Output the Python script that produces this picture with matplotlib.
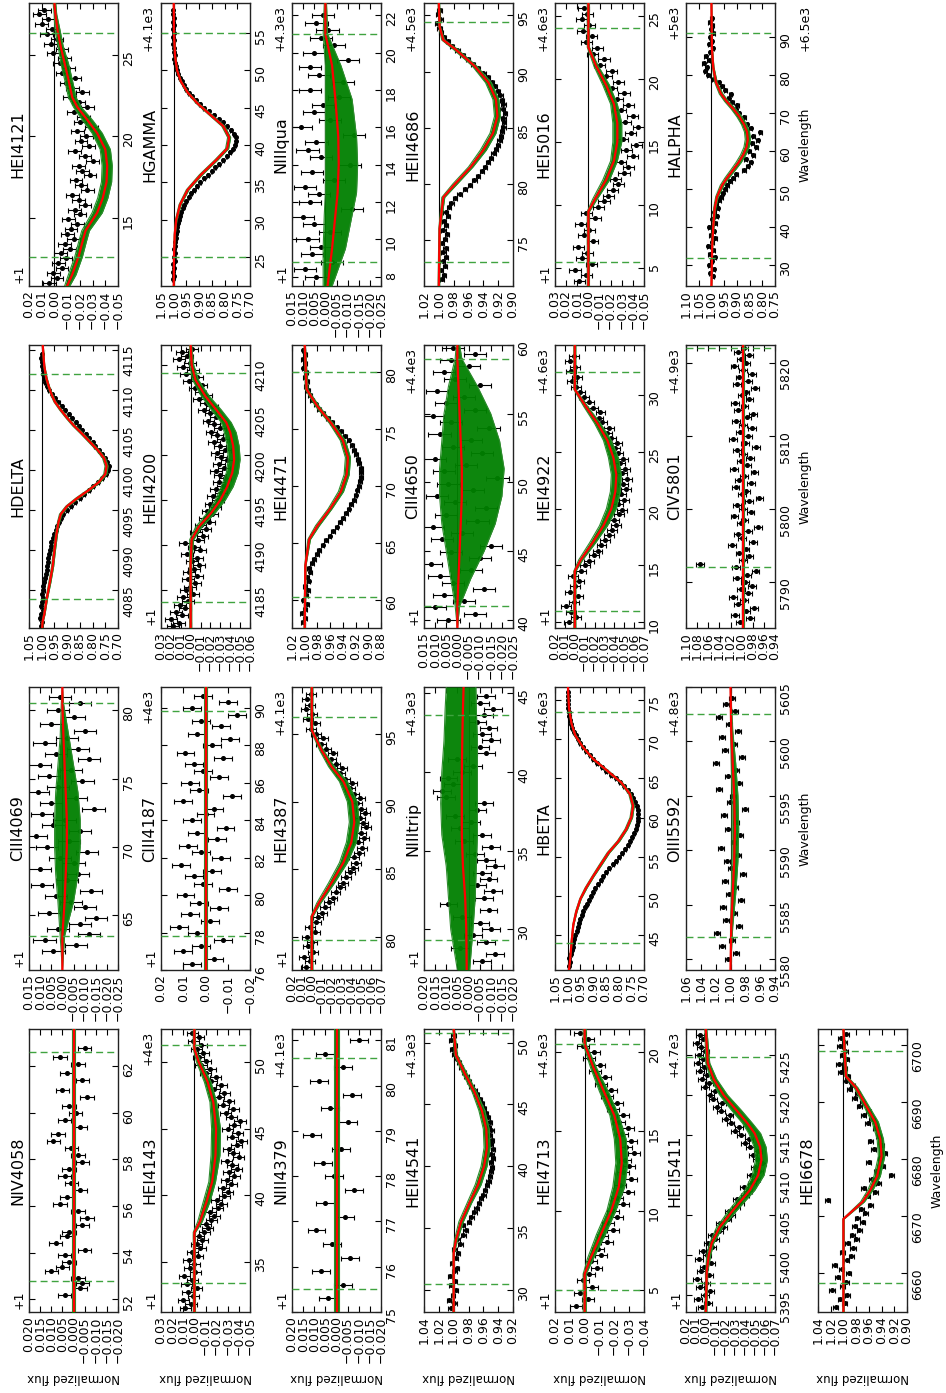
import numpy as np
import matplotlib
matplotlib.use("Agg")
import matplotlib.pyplot as plt
from matplotlib.ticker import MultipleLocator, FuncFormatter

# ---------------------------------------------------------------- data
# flux for "+1" panels is stored as (flux - 1)

NIV4058_wl = [4052.2, 4052.5, 4052.7, 4052.9, 4053.2, 4053.4, 4053.6, 4053.9, 4054.1, 4054.4,
              4054.7, 4054.9, 4055.2, 4055.5, 4055.8, 4056.1, 4056.4, 4056.7, 4057.0, 4057.3,
              4057.6, 4057.9, 4058.2, 4058.5, 4058.8, 4059.1, 4059.4, 4059.7, 4060.0, 4060.3,
              4060.7, 4061.0, 4061.4, 4061.7, 4062.1, 4062.4, 4062.8]
NIV4058_fx = [0.004, -0.003, -0.004, -0.002, 0.010, 0.005, 0.002, 0.004, -0.005, 0.008,
              0.003, 0.002, -0.004, -0.006, -0.002, 0.006, 0.003, -0.003, 0.001, 0.004,
              0.002, -0.004, -0.002, 0.001, 0.009, 0.007, -0.003, 0.004, -0.001, 0.002,
              -0.006, 0.005, -0.004, 0.003, -0.002, 0.006, -0.005]
NIV4058_err = 0.003
NIV4058_mwl = [4051.4, 4063.6]
NIV4058_red = [0.0, 0.0]
NIV4058_band = [0.0005, 0.0005]

CIII4069_wl = [4062.4, 4062.8, 4063.2, 4063.6, 4064.0, 4064.4, 4064.8, 4065.2, 4065.6, 4066.0,
               4066.4, 4066.8, 4067.2, 4067.6, 4068.0, 4068.4, 4068.8, 4069.2, 4069.6, 4070.0,
               4070.4, 4070.8, 4071.2, 4071.6, 4072.0, 4072.4, 4072.8, 4073.2, 4073.6, 4074.0,
               4074.4, 4074.8, 4075.2, 4075.6, 4076.0, 4076.4, 4076.8, 4077.2, 4077.6, 4078.0,
               4078.5, 4079.0, 4079.5, 4080.0, 4080.5, 4081.0]
CIII4069_fx = [0.004, -0.006, 0.008, -0.012, 0.002, -0.008, -0.015, 0.006, -0.010, -0.004,
               0.003, -0.013, 0.009, -0.002, -0.007, 0.010, -0.005, 0.001, -0.011, 0.007,
               -0.003, 0.012, -0.008, 0.004, -0.001, 0.009, -0.014, 0.005, -0.006, 0.011,
               0.002, -0.009, 0.006, -0.004, 0.010, -0.012, 0.003, -0.007, 0.008, -0.002,
               -0.010, 0.005, -0.005, 0.002, -0.008, 0.001]
CIII4069_err = 0.005
CIII4069_mwl = [4061.0, 4063.5, 4066.0, 4068.0, 4070.0, 4072.0, 4074.0, 4076.0, 4078.0, 4080.5, 4081.7]
CIII4069_red = [0.0, 0.0, -0.001, -0.0015, -0.002, -0.002, -0.0015, -0.001, -0.0005, 0.0, 0.0]
CIII4069_lo = [0.0, -0.001, -0.005, -0.007, -0.008, -0.008, -0.007, -0.005, -0.003, -0.0005, 0.0]
CIII4069_hi = [0.0, 0.001, 0.002, 0.003, 0.0035, 0.0035, 0.003, 0.002, 0.001, 0.0005, 0.0]

HDELTA_wl = [4080.5, 4081.0, 4081.5, 4082.0, 4082.5, 4083.0, 4083.5, 4084.0, 4084.5, 4085.0,
             4085.5, 4086.0, 4086.5, 4087.0, 4087.5, 4088.0, 4088.5, 4089.0, 4089.5, 4090.0,
             4090.5, 4091.0, 4091.5, 4092.0, 4092.5, 4093.0, 4093.5, 4094.0, 4094.5, 4095.0,
             4095.5, 4096.0, 4096.5, 4097.0, 4097.5, 4098.0, 4098.5, 4099.0, 4099.5, 4100.0,
             4100.5, 4101.0, 4101.5, 4102.0, 4102.5, 4103.0, 4103.5, 4104.0, 4104.5, 4105.0,
             4105.5, 4106.0, 4106.5, 4107.0, 4107.5, 4108.0, 4108.5, 4109.0, 4109.5, 4110.0,
             4110.5, 4111.0, 4111.5, 4112.0, 4112.5, 4113.0, 4113.5, 4114.0, 4114.5]
HDELTA_fx = [1.004, 0.998, 1.006, 1.001, 0.996, 1.003, 0.999, 0.995, 1.000, 0.993,
             0.996, 0.990, 0.987, 0.984, 0.980, 0.981, 0.976, 0.974, 0.970, 0.967,
             0.964, 0.962, 0.956, 0.952, 0.945, 0.940, 0.932, 0.924, 0.916, 0.902,
             0.885, 0.868, 0.850, 0.833, 0.815, 0.797, 0.780, 0.762, 0.748, 0.738,
             0.736, 0.742, 0.752, 0.764, 0.776, 0.789, 0.800, 0.814, 0.827, 0.840,
             0.853, 0.866, 0.880, 0.894, 0.908, 0.920, 0.934, 0.948, 0.960, 0.970,
             0.979, 0.986, 0.991, 0.996, 0.994, 1.000, 0.997, 1.002, 0.999]
HDELTA_err = 0.004
HDELTA_mwl = [4080.3, 4081.0, 4082.0, 4084.0, 4086.0, 4088.0, 4090.0, 4092.0, 4093.5, 4094.5,
              4095.5, 4096.5, 4097.5, 4098.5, 4099.5, 4100.5, 4101.5, 4102.5, 4103.5, 4104.5,
              4105.5, 4106.5, 4107.5, 4108.5, 4109.5, 4110.5, 4111.5, 4113.0, 4115.6]
HDELTA_red = [0.998, 0.997, 0.990, 0.980, 0.968, 0.957, 0.950, 0.942, 0.934, 0.925,
              0.900, 0.860, 0.815, 0.775, 0.750, 0.745, 0.755, 0.780, 0.810, 0.840,
              0.872, 0.900, 0.925, 0.948, 0.962, 0.973, 0.982, 0.990, 0.996]
HDELTA_band = [0.002, 0.002, 0.003, 0.003, 0.004, 0.004, 0.004, 0.004, 0.004, 0.005,
               0.005, 0.006, 0.006, 0.006, 0.006, 0.006, 0.006, 0.006, 0.006, 0.006,
               0.006, 0.005, 0.005, 0.004, 0.004, 0.003, 0.003, 0.002, 0.002]

HEI4121_wl = [4111.0, 4111.3, 4111.6, 4111.9, 4112.2, 4112.5, 4112.8, 4113.1, 4113.4, 4113.7,
              4114.0, 4114.3, 4114.6, 4114.9, 4115.2, 4115.5, 4115.8, 4116.1, 4116.4, 4116.7,
              4117.0, 4117.3, 4117.6, 4117.9, 4118.2, 4118.5, 4118.8, 4119.1, 4119.4, 4119.7,
              4120.0, 4120.3, 4120.6, 4120.9, 4121.2, 4121.5, 4121.8, 4122.1, 4122.4, 4122.7,
              4123.0, 4123.3, 4123.6, 4123.9, 4124.2, 4124.5, 4124.8, 4125.1, 4125.4, 4125.7,
              4126.0, 4126.3, 4126.6, 4126.9, 4127.2, 4127.5, 4127.8]
HEI4121_fx = [0.004, -0.002, 0.001, -0.006, -0.003, -0.009, -0.005, -0.012, -0.008, -0.015,
              -0.010, -0.013, -0.018, -0.011, -0.020, -0.016, -0.024, -0.019, -0.014, -0.026,
              -0.021, -0.017, -0.028, -0.022, -0.019, -0.030, -0.024, -0.016, -0.027, -0.021,
              -0.025, -0.018, -0.029, -0.020, -0.023, -0.015, -0.026, -0.019, -0.012, -0.022,
              -0.014, -0.009, -0.016, -0.006, -0.011, -0.004, -0.008, 0.001, -0.006, 0.003,
              -0.002, 0.006, 0.002, 0.010, 0.005, 0.012, 0.008]
HEI4121_err = 0.005
HEI4121_mwl = [4110.8, 4111.5, 4112.6, 4113.5, 4114.2, 4115.3, 4116.2, 4117.2, 4118.2, 4119.2,
               4120.2, 4121.0, 4121.8, 4122.4, 4123.5, 4124.5, 4125.5, 4126.5, 4127.5, 4128.2]
HEI4121_red = [-0.010, -0.014, -0.019, -0.022, -0.0245, -0.0336, -0.038, -0.041, -0.0415, -0.040,
               -0.0336, -0.026, -0.018, -0.014, -0.011, -0.008, -0.005, -0.0025, -0.0008, 0.0]
HEI4121_band = [0.002, 0.003, 0.003, 0.003, 0.003, 0.004, 0.004, 0.004, 0.004, 0.004,
                0.004, 0.004, 0.003, 0.003, 0.003, 0.003, 0.002, 0.002, 0.001, 0.001]

HEI4143_wl = [4131.5, 4131.8, 4132.1, 4132.4, 4132.7, 4133.0, 4133.3, 4133.6, 4133.9, 4134.2,
              4134.5, 4134.8, 4135.1, 4135.4, 4135.7, 4136.0, 4136.3, 4136.6, 4136.9, 4137.2,
              4137.5, 4137.8, 4138.1, 4138.4, 4138.7, 4139.0, 4139.3, 4139.6, 4139.9, 4140.2,
              4140.5, 4140.8, 4141.1, 4141.4, 4141.7, 4142.0, 4142.3, 4142.6, 4142.9, 4143.2,
              4143.5, 4143.8, 4144.1, 4144.4, 4144.7, 4145.0, 4145.3, 4145.6, 4145.9, 4146.2,
              4146.5, 4146.8, 4147.1, 4147.4, 4147.7, 4148.0, 4148.3, 4148.6, 4148.9, 4149.2,
              4149.5, 4149.8, 4150.1, 4150.4, 4150.7, 4151.0, 4151.3, 4151.6, 4151.9, 4152.2]
HEI4143_fx = [0.008, 0.003, 0.010, 0.001, 0.006, -0.002, 0.007, 0.002, 0.009, -0.001,
              0.004, 0.000, 0.005, -0.003, 0.002, -0.005, -0.002, -0.007, -0.004, -0.009,
              -0.012, -0.010, -0.015, -0.018, -0.014, -0.021, -0.024, -0.020, -0.027, -0.030,
              -0.026, -0.033, -0.029, -0.036, -0.031, -0.038, -0.034, -0.029, -0.040, -0.035,
              -0.031, -0.038, -0.042, -0.034, -0.039, -0.030, -0.036, -0.041, -0.033, -0.028,
              -0.035, -0.026, -0.031, -0.022, -0.027, -0.018, -0.024, -0.015, -0.019, -0.010,
              -0.014, -0.006, -0.010, -0.004, -0.008, -0.002, -0.006, 0.001, -0.004, 0.002]
HEI4143_err = 0.005
HEI4143_mwl = [4131.2, 4137.2, 4138.0, 4139.5, 4141.0, 4143.0, 4145.0, 4147.0, 4148.5, 4150.0, 4151.0, 4152.5]
HEI4143_red = [0.0, 0.0, -0.005, -0.011, -0.016, -0.019, -0.0195, -0.017, -0.012, -0.004, 0.0, 0.0]
HEI4143_band = [0.001, 0.001, 0.002, 0.003, 0.003, 0.004, 0.004, 0.003, 0.003, 0.002, 0.001, 0.001]

CIII4187_wl = [4176.3, 4176.6, 4177.0, 4177.3, 4177.6, 4178.0, 4178.3, 4178.6, 4179.0, 4179.3,
               4179.6, 4180.0, 4180.3, 4180.6, 4181.0, 4181.3, 4181.6, 4182.0, 4182.3, 4182.6,
               4183.0, 4183.3, 4183.6, 4184.0, 4184.3, 4184.6, 4185.0, 4185.3, 4185.6, 4186.0,
               4186.3, 4186.6, 4187.0, 4187.3, 4187.6, 4188.0, 4188.3, 4188.6, 4189.0, 4189.3,
               4189.6, 4190.0, 4190.3, 4190.6]
CIII4187_fx = [0.006, -0.004, 0.010, 0.002, -0.008, 0.004, 0.012, -0.002, 0.007, -0.006,
               0.003, 0.009, -0.010, 0.001, 0.005, -0.003, 0.011, -0.007, 0.002, 0.008,
               -0.005, 0.004, -0.009, 0.006, 0.000, -0.004, 0.010, -0.012, 0.003, 0.007,
               -0.006, 0.001, 0.005, -0.008, 0.009, -0.003, -0.011, 0.004, -0.007, 0.002,
               -0.014, 0.006, -0.010, 0.001]
CIII4187_err = 0.004
CIII4187_mwl = [4176.0, 4191.1]
CIII4187_red = [0.0, 0.0]
CIII4187_band = [0.0008, 0.0008]

HEII4200_wl = [4181.0, 4181.4, 4181.8, 4182.2, 4182.6, 4183.0, 4183.4, 4183.8, 4184.2, 4184.6,
               4185.0, 4185.4, 4185.8, 4186.2, 4186.6, 4187.0, 4187.4, 4187.8, 4188.2, 4188.6,
               4189.0, 4189.4, 4189.8, 4190.2, 4190.6, 4191.0, 4191.4, 4191.8, 4192.2, 4192.6,
               4193.0, 4193.4, 4193.8, 4194.2, 4194.6, 4195.0, 4195.4, 4195.8, 4196.2, 4196.6,
               4197.0, 4197.4, 4197.8, 4198.2, 4198.6, 4199.0, 4199.4, 4199.8, 4200.2, 4200.6,
               4201.0, 4201.4, 4201.8, 4202.2, 4202.6, 4203.0, 4203.4, 4203.8, 4204.2, 4204.6,
               4205.0, 4205.4, 4205.8, 4206.2, 4206.6, 4207.0, 4207.4, 4207.8, 4208.2, 4208.6,
               4209.0, 4209.4, 4209.8, 4210.2, 4210.6, 4211.0, 4211.4, 4211.8]
HEII4200_fx = [0.018, 0.012, 0.020, 0.009, 0.015, 0.006, 0.011, 0.003, 0.008, -0.002,
               0.005, 0.001, -0.004, 0.003, -0.006, 0.002, -0.003, -0.008, -0.001, -0.006,
               0.004, -0.009, -0.003, 0.006, -0.007, -0.012, -0.005, -0.015, -0.010, -0.019,
               -0.014, -0.022, -0.017, -0.025, -0.020, -0.028, -0.023, -0.031, -0.026, -0.033,
               -0.029, -0.035, -0.030, -0.026, -0.034, -0.029, -0.037, -0.031, -0.027, -0.035,
               -0.030, -0.024, -0.033, -0.027, -0.021, -0.030, -0.024, -0.018, -0.026, -0.020,
               -0.013, -0.022, -0.015, -0.008, -0.016, -0.010, -0.004, -0.011, 0.002, -0.006,
               0.005, -0.002, 0.008, 0.001, 0.012, 0.004, 0.009, -0.001]
HEII4200_err = 0.006
HEII4200_mwl = [4180.8, 4188.0, 4190.6, 4192.0, 4193.6, 4195.0, 4196.5, 4198.0, 4199.5, 4201.0,
                4202.5, 4203.6, 4205.0, 4206.5, 4208.3, 4210.0, 4212.2]
HEII4200_red = [0.0, 0.0, -0.001, -0.008, -0.021, -0.030, -0.037, -0.042, -0.044, -0.043,
                -0.040, -0.036, -0.026, -0.015, -0.005, -0.001, 0.0]
HEII4200_band = [0.001, 0.001, 0.002, 0.003, 0.004, 0.005, 0.006, 0.006, 0.006, 0.006,
                 0.006, 0.005, 0.005, 0.004, 0.003, 0.002, 0.001]

HGAMMA_wl = [4322.0, 4322.5, 4323.0, 4323.5, 4324.0, 4324.5, 4325.0, 4325.5, 4326.0, 4326.5,
             4327.0, 4327.5, 4328.0, 4328.5, 4329.0, 4329.5, 4330.0, 4330.5, 4331.0, 4331.5,
             4332.0, 4332.5, 4333.0, 4333.5, 4334.0, 4334.5, 4335.0, 4335.5, 4336.0, 4336.5,
             4337.0, 4337.5, 4338.0, 4338.5, 4339.0, 4339.5, 4340.0, 4340.5, 4341.0, 4341.5,
             4342.0, 4342.5, 4343.0, 4343.5, 4344.0, 4344.5, 4345.0, 4345.5, 4346.0, 4346.5,
             4347.0, 4347.5, 4348.0, 4348.5, 4349.0, 4349.5, 4350.0, 4350.5, 4351.0, 4351.5,
             4352.0, 4352.5, 4353.0, 4353.5, 4354.0, 4354.5, 4355.0, 4355.5, 4356.0, 4356.5,
             4357.0, 4357.5, 4358.0]
HGAMMA_fx = [1.003, 0.998, 1.002, 0.997, 1.001, 0.996, 1.000, 0.996, 0.998, 0.994,
             0.995, 0.991, 0.992, 0.988, 0.987, 0.983, 0.981, 0.976, 0.971, 0.965,
             0.958, 0.950, 0.941, 0.931, 0.920, 0.908, 0.895, 0.881, 0.866, 0.851,
             0.836, 0.821, 0.806, 0.792, 0.779, 0.768, 0.759, 0.755, 0.757, 0.764,
             0.775, 0.789, 0.805, 0.823, 0.842, 0.861, 0.880, 0.897, 0.913, 0.927,
             0.940, 0.951, 0.961, 0.969, 0.976, 0.982, 0.987, 0.991, 0.994, 0.997,
             0.996, 0.999, 0.998, 1.001, 0.999, 1.002, 1.000, 1.003, 0.999, 1.002,
             1.000, 1.004, 1.001]
HGAMMA_err = 0.003
HGAMMA_mwl = [4321.0, 4325.0, 4328.0, 4330.0, 4332.0, 4334.0, 4336.0, 4338.0, 4339.5, 4341.0,
              4342.5, 4344.0, 4345.5, 4347.0, 4348.5, 4350.0, 4352.0, 4355.0, 4359.0]
HGAMMA_red = [1.0, 0.999, 0.996, 0.990, 0.975, 0.945, 0.893, 0.832, 0.790, 0.782,
              0.805, 0.855, 0.905, 0.945, 0.972, 0.987, 0.995, 0.999, 1.0]
HGAMMA_band = [0.001, 0.001, 0.002, 0.003, 0.004, 0.005, 0.006, 0.006, 0.006, 0.006,
               0.006, 0.006, 0.005, 0.004, 0.003, 0.002, 0.002, 0.001, 0.001]

NIII4379_wl = [4375.3, 4375.6, 4375.9, 4376.2, 4376.5, 4376.8, 4377.1, 4377.4, 4377.7, 4378.0,
               4378.3, 4378.6, 4378.9, 4379.2, 4379.5, 4379.8, 4380.1, 4380.4, 4380.7, 4381.0]
NIII4379_fx = [0.004, -0.003, 0.007, -0.006, 0.002, 0.009, -0.004, 0.005, -0.008, 0.001,
               0.006, -0.002, 0.011, -0.005, 0.003, -0.007, 0.008, -0.003, 0.005, -0.010]
NIII4379_err = 0.004
NIII4379_mwl = [4375.0, 4381.25]
NIII4379_red = [0.0, 0.0]
NIII4379_band = [0.0009, 0.0009]

HEI4387_wl = [4377.8, 4378.2, 4378.5, 4378.9, 4379.3, 4379.6, 4380.0, 4380.4, 4380.7, 4381.1,
              4381.5, 4381.8, 4382.2, 4382.6, 4382.9, 4383.3, 4383.7, 4384.0, 4384.4, 4384.8,
              4385.1, 4385.5, 4385.9, 4386.2, 4386.6, 4387.0, 4387.3, 4387.7, 4388.1, 4388.4,
              4388.8, 4389.2, 4389.5, 4389.9, 4390.3, 4390.6, 4391.0, 4391.4, 4391.7, 4392.1,
              4392.5, 4392.8, 4393.2, 4393.6, 4393.9, 4394.3, 4394.7, 4395.0, 4395.4, 4395.8,
              4396.1, 4396.5, 4396.9, 4397.2, 4397.6, 4398.0]
HEI4387_fx = [0.006, 0.002, 0.008, -0.001, 0.004, 0.000, 0.005, -0.003, 0.002, -0.004,
              -0.006, -0.010, -0.013, -0.017, -0.021, -0.024, -0.029, -0.032, -0.035, -0.039,
              -0.042, -0.045, -0.043, -0.048, -0.051, -0.047, -0.053, -0.050, -0.055, -0.052,
              -0.049, -0.054, -0.050, -0.046, -0.049, -0.043, -0.039, -0.041, -0.034, -0.029,
              -0.031, -0.024, -0.019, -0.021, -0.014, -0.009, -0.011, -0.004, 0.001, -0.003,
              0.004, 0.000, 0.006, 0.002, 0.005, 0.001]
HEI4387_err = 0.005
HEI4387_mwl = [4377.55, 4381.5, 4382.5, 4384.0, 4385.5, 4387.0, 4388.5, 4390.0, 4391.5, 4392.6,
               4393.8, 4395.3, 4398.5]
HEI4387_red = [0.0, 0.0, -0.007, -0.020, -0.032, -0.040, -0.043, -0.041, -0.032, -0.020,
               -0.010, 0.0, 0.0]
HEI4387_band = [0.001, 0.001, 0.002, 0.003, 0.004, 0.005, 0.005, 0.005, 0.004, 0.003,
                0.002, 0.001, 0.001]

HEI4471_wl = [4458.0, 4458.4, 4458.8, 4459.2, 4459.6, 4460.0, 4460.4, 4460.8, 4461.2, 4461.6,
              4462.0, 4462.4, 4462.8, 4463.2, 4463.6, 4464.0, 4464.4, 4464.8, 4465.2, 4465.6,
              4466.0, 4466.4, 4466.8, 4467.2, 4467.6, 4468.0, 4468.4, 4468.8, 4469.2, 4469.6,
              4470.0, 4470.4, 4470.8, 4471.2, 4471.6, 4472.0, 4472.4, 4472.8, 4473.2, 4473.6,
              4474.0, 4474.4, 4474.8, 4475.2, 4475.6, 4476.0, 4476.4, 4476.8, 4477.2, 4477.6,
              4478.0, 4478.4, 4478.8, 4479.2, 4479.6, 4480.0, 4480.4, 4480.8, 4481.2, 4481.6,
              4482.0]
HEI4471_fx = [1.003, 0.999, 1.004, 1.000, 0.997, 1.002, 0.998, 0.995, 0.999, 0.994,
              0.996, 0.991, 0.993, 0.988, 0.985, 0.981, 0.977, 0.972, 0.966, 0.961,
              0.956, 0.950, 0.945, 0.940, 0.935, 0.931, 0.927, 0.923, 0.920, 0.917,
              0.915, 0.913, 0.912, 0.911, 0.912, 0.914, 0.916, 0.919, 0.922, 0.926,
              0.931, 0.937, 0.943, 0.950, 0.957, 0.964, 0.971, 0.977, 0.983, 0.988,
              0.992, 0.995, 0.998, 0.996, 1.000, 0.998, 1.002, 0.999, 1.003, 1.000,
              1.002]
HEI4471_err = 0.003
HEI4471_mwl = [4457.5, 4463.0, 4465.3, 4466.5, 4468.0, 4469.5, 4471.0, 4472.5, 4474.0, 4475.5,
               4477.0, 4478.5, 4482.4]
HEI4471_red = [1.0, 0.999, 0.993, 0.980, 0.960, 0.943, 0.934, 0.932, 0.940, 0.958,
               0.980, 0.997, 1.0]
HEI4471_band = [0.001, 0.001, 0.002, 0.003, 0.003, 0.004, 0.004, 0.004, 0.004, 0.003,
                0.003, 0.002, 0.001]

NIIIqua_wl = [4508.0, 4508.4, 4508.8, 4509.2, 4509.6, 4510.0, 4510.4, 4510.8, 4511.2, 4511.6,
              4512.0, 4512.4, 4512.8, 4513.2, 4513.6, 4514.0, 4514.4, 4514.8, 4515.2, 4515.6,
              4516.0, 4516.4, 4516.8, 4517.2, 4517.6, 4518.0, 4518.4, 4518.8, 4519.2, 4519.6,
              4520.0, 4520.4, 4520.8, 4521.2, 4521.6, 4522.0]
NIIIqua_fx = [0.004, 0.009, -0.003, 0.006, 0.002, 0.008, -0.002, 0.005, 0.010, -0.012,
              0.007, 0.003, 0.009, -0.004, 0.006, -0.011, 0.002, 0.008, 0.004, -0.013,
              0.011, -0.002, 0.005, 0.001, -0.006, 0.007, -0.008, 0.003, 0.007, -0.010,
              0.005, -0.004, 0.002, -0.001, 0.004, 0.001]
NIIIqua_err = 0.005
NIIIqua_mwl = [4507.5, 4509.5, 4511.3, 4512.5, 4514.0, 4515.5, 4517.5, 4519.3, 4521.0, 4522.65]
NIIIqua_red = [-0.001, -0.003, -0.0045, -0.0055, -0.006, -0.0058, -0.0045, -0.003, 0.0, 0.0]
NIIIqua_lo = [-0.003, -0.009, -0.012, -0.014, -0.0145, -0.014, -0.012, -0.007, -0.001, -0.0005]
NIIIqua_hi = [0.001, 0.001, 0.0005, 0.0, 0.0, 0.0, 0.0, 0.0, 0.001, 0.0005]

HEII4541_wl = [4528.5, 4528.9, 4529.2, 4529.6, 4530.0, 4530.4, 4530.7, 4531.1, 4531.5, 4531.8,
               4532.2, 4532.6, 4533.0, 4533.3, 4533.7, 4534.1, 4534.4, 4534.8, 4535.2, 4535.5,
               4535.9, 4536.3, 4536.6, 4537.0, 4537.4, 4537.7, 4538.1, 4538.5, 4538.8, 4539.2,
               4539.6, 4539.9, 4540.3, 4540.7, 4541.0, 4541.4, 4541.8, 4542.1, 4542.5, 4542.9,
               4543.2, 4543.6, 4544.0, 4544.3, 4544.7, 4545.1, 4545.4, 4545.8, 4546.2, 4546.5,
               4546.9, 4547.3, 4547.6, 4548.0, 4548.4, 4548.7, 4549.1, 4549.5, 4549.8, 4550.2,
               4550.6]
HEII4541_fx = [1.004, 0.999, 1.006, 1.001, 0.997, 1.003, 0.998, 1.005, 0.999, 0.996,
               1.002, 0.997, 0.994, 0.999, 0.991, 0.995, 0.987, 0.984, 0.988, 0.979,
               0.976, 0.972, 0.969, 0.966, 0.963, 0.960, 0.958, 0.955, 0.953, 0.951,
               0.950, 0.948, 0.950, 0.947, 0.949, 0.947, 0.950, 0.948, 0.951, 0.949,
               0.952, 0.951, 0.954, 0.957, 0.959, 0.962, 0.965, 0.969, 0.972, 0.976,
               0.979, 0.983, 0.986, 0.990, 0.993, 0.996, 0.999, 1.002, 0.998, 1.003,
               1.000]
HEII4541_err = 0.003
HEII4541_mwl = [4528.2, 4533.0, 4534.0, 4535.5, 4537.0, 4538.5, 4540.0, 4541.5, 4543.0, 4544.5,
                4546.0, 4547.5, 4549.0, 4551.1]
HEII4541_red = [1.0, 1.0, 0.997, 0.990, 0.979, 0.967, 0.959, 0.955, 0.956, 0.962,
                0.972, 0.985, 0.997, 1.0]
HEII4541_band = [0.001, 0.001, 0.002, 0.003, 0.003, 0.004, 0.004, 0.004, 0.004, 0.004,
                 0.003, 0.003, 0.002, 0.001]

NIIItrip_wl = [4628.0, 4628.4, 4628.8, 4629.2, 4629.6, 4630.0, 4630.4, 4630.8, 4631.2, 4631.6,
               4632.0, 4632.4, 4632.8, 4633.2, 4633.6, 4634.0, 4634.4, 4634.8, 4635.2, 4635.6,
               4636.0, 4636.4, 4636.8, 4637.2, 4637.6, 4638.0, 4638.4, 4638.8, 4639.2, 4639.6,
               4640.0, 4640.4, 4640.8, 4641.2, 4641.6, 4642.0, 4642.4, 4642.8, 4643.2, 4643.6,
               4644.0, 4644.4, 4644.8]
NIIItrip_fx = [-0.006, -0.012, 0.004, -0.008, -0.002, -0.010, -0.005, 0.003, -0.009, 0.009,
               -0.007, -0.011, -0.004, -0.009, -0.006, -0.012, -0.008, -0.003, -0.010, 0.002,
               -0.006, 0.004, -0.001, 0.006, -0.004, -0.007, 0.010, 0.012, 0.007, 0.009,
               0.003, -0.002, 0.005, -0.008, -0.005, -0.010, -0.006, -0.009, -0.004, -0.007,
               -0.011, -0.005, -0.008]
NIIItrip_err = 0.004
NIIItrip_mwl = [4627.4, 4630.0, 4632.0, 4634.0, 4636.0, 4638.0, 4640.0, 4642.0, 4644.0, 4645.4]
NIIItrip_red = [0.0008, 0.001, 0.0015, 0.0025, 0.003, 0.003, 0.003, 0.0028, 0.0025, 0.0022]
NIIItrip_lo = [-0.0005, -0.002, -0.003, -0.0035, -0.004, -0.004, -0.004, -0.004, -0.0035, -0.0033]
NIIItrip_hi = [0.005, 0.008, 0.009, 0.010, 0.012, 0.0125, 0.012, 0.011, 0.0105, 0.010]

CIII4650_wl = [4640.0, 4640.45, 4640.9, 4641.35, 4641.8, 4642.25, 4642.7, 4643.15, 4643.6, 4644.05,
               4644.5, 4644.95, 4645.4, 4645.85, 4646.3, 4646.75, 4647.2, 4647.65, 4648.1, 4648.55,
               4649.0, 4649.45, 4649.9, 4650.35, 4650.8, 4651.25, 4651.7, 4652.15, 4652.6, 4653.05,
               4653.5, 4653.95, 4654.4, 4654.85, 4655.3, 4655.75, 4656.2, 4656.65, 4657.1, 4657.55,
               4658.0, 4658.45, 4658.9, 4659.35, 4659.8]
CIII4650_fx = [0.004, -0.008, 0.010, -0.003, 0.006, -0.012, 0.002, 0.008, -0.006, 0.012,
               -0.010, 0.003, -0.015, 0.007, -0.002, 0.011, -0.009, 0.005, -0.013, 0.001,
               0.009, -0.007, 0.004, -0.018, 0.006, -0.004, 0.010, -0.011, 0.002, -0.006,
               0.008, -0.014, 0.003, 0.011, -0.008, 0.005, -0.003, 0.009, -0.010, 0.001,
               0.006, -0.005, 0.003, -0.008, 0.002]
CIII4650_err = 0.005
CIII4650_mwl = [4639.4, 4641.0, 4643.0, 4645.0, 4647.0, 4649.0, 4651.0, 4653.0, 4655.0, 4657.0, 4659.0, 4660.0]
CIII4650_red = [0.0, 0.0, -0.0005, -0.001, -0.0015, -0.002, -0.002, -0.0015, -0.001, -0.0005, 0.0, 0.0]
CIII4650_lo = [0.0, -0.001, -0.006, -0.012, -0.017, -0.020, -0.021, -0.019, -0.015, -0.009, -0.002, -0.001]
CIII4650_hi = [0.0, 0.001, 0.003, 0.005, 0.007, 0.008, 0.008, 0.007, 0.006, 0.004, 0.001, 0.0005]

HEII4686_wl = [4671.5, 4671.9, 4672.3, 4672.7, 4673.1, 4673.5, 4673.9, 4674.3, 4674.7, 4675.1,
               4675.5, 4675.9, 4676.3, 4676.7, 4677.1, 4677.5, 4677.9, 4678.3, 4678.7, 4679.1,
               4679.5, 4679.9, 4680.3, 4680.7, 4681.1, 4681.5, 4681.9, 4682.3, 4682.7, 4683.1,
               4683.5, 4683.9, 4684.3, 4684.7, 4685.1, 4685.5, 4685.9, 4686.3, 4686.7, 4687.1,
               4687.5, 4687.9, 4688.3, 4688.7, 4689.1, 4689.5, 4689.9, 4690.3, 4690.7, 4691.1,
               4691.5, 4691.9, 4692.3, 4692.7, 4693.1, 4693.5, 4693.9, 4694.3, 4694.7, 4695.1,
               4695.5]
HEII4686_fx = [0.996, 0.993, 0.997, 0.992, 0.995, 0.990, 0.994, 0.991, 0.996, 0.992,
               0.989, 0.994, 0.990, 0.993, 0.988, 0.991, 0.986, 0.983, 0.978, 0.972,
               0.965, 0.958, 0.952, 0.947, 0.942, 0.938, 0.934, 0.930, 0.926, 0.923,
               0.920, 0.918, 0.916, 0.915, 0.913, 0.912, 0.913, 0.911, 0.914, 0.913,
               0.915, 0.917, 0.920, 0.924, 0.928, 0.934, 0.940, 0.947, 0.954, 0.961,
               0.968, 0.975, 0.982, 0.988, 0.993, 0.997, 0.999, 1.002, 0.998, 1.001,
               0.999]
HEII4686_err = 0.003
HEII4686_mwl = [4670.9, 4676.0, 4678.8, 4680.0, 4681.5, 4683.0, 4684.5, 4686.0, 4687.5, 4689.0,
                4690.5, 4692.0, 4692.8, 4694.0, 4696.1]
HEII4686_red = [1.0, 0.999, 0.994, 0.978, 0.957, 0.940, 0.927, 0.921, 0.923, 0.933,
                0.952, 0.978, 0.994, 0.999, 1.0]
HEII4686_band = [0.001, 0.001, 0.002, 0.003, 0.003, 0.004, 0.004, 0.004, 0.004, 0.004,
                 0.003, 0.003, 0.002, 0.001, 0.001]

HEI4713_wl = [4704.0, 4704.4, 4704.8, 4705.2, 4705.6, 4706.0, 4706.4, 4706.8, 4707.2, 4707.6,
              4708.0, 4708.4, 4708.8, 4709.2, 4709.6, 4710.0, 4710.4, 4710.8, 4711.2, 4711.6,
              4712.0, 4712.4, 4712.8, 4713.2, 4713.6, 4714.0, 4714.4, 4714.8, 4715.2, 4715.6,
              4716.0, 4716.4, 4716.8, 4717.2, 4717.6, 4718.0, 4718.4, 4718.8, 4719.2, 4719.6,
              4720.0, 4720.4, 4720.8, 4721.2]
HEI4713_fx = [0.006, -0.002, 0.003, -0.005, 0.001, -0.003, -0.008, -0.004, -0.011, -0.009,
              -0.015, -0.012, -0.019, -0.016, -0.022, -0.019, -0.026, -0.022, -0.029, -0.024,
              -0.031, -0.026, -0.030, -0.027, -0.033, -0.028, -0.031, -0.025, -0.029, -0.023,
              -0.026, -0.019, -0.022, -0.015, -0.018, -0.011, -0.014, -0.007, -0.010, -0.003,
              -0.006, 0.001, -0.002, 0.003]
HEI4713_err = 0.004
HEI4713_mwl = [4703.6, 4706.0, 4707.0, 4708.5, 4710.0, 4711.5, 4713.0, 4714.5, 4716.0, 4717.5,
               4719.0, 4720.5, 4721.45]
HEI4713_red = [0.0, 0.0, -0.004, -0.011, -0.018, -0.023, -0.025, -0.024, -0.020, -0.013,
               -0.006, 0.0, 0.0]
HEI4713_band = [0.001, 0.001, 0.002, 0.003, 0.003, 0.004, 0.004, 0.004, 0.003, 0.003,
                0.002, 0.001, 0.001]

HBETA_wl = [4841.0, 4841.5, 4842.0, 4842.5, 4843.0, 4843.5, 4844.0, 4844.5, 4845.0, 4845.5,
            4846.0, 4846.5, 4847.0, 4847.5, 4848.0, 4848.5, 4849.0, 4849.5, 4850.0, 4850.5,
            4851.0, 4851.5, 4852.0, 4852.5, 4853.0, 4853.5, 4854.0, 4854.5, 4855.0, 4855.5,
            4856.0, 4856.5, 4857.0, 4857.5, 4858.0, 4858.5, 4859.0, 4859.5, 4860.0, 4860.5,
            4861.0, 4861.5, 4862.0, 4862.5, 4863.0, 4863.5, 4864.0, 4864.5, 4865.0, 4865.5,
            4866.0, 4866.5, 4867.0, 4867.5, 4868.0, 4868.5, 4869.0, 4869.5, 4870.0, 4870.5,
            4871.0, 4871.5, 4872.0, 4872.5, 4873.0, 4873.5, 4874.0, 4874.5, 4875.0, 4875.5,
            4876.0]
HBETA_fx = [0.995, 0.991, 0.994, 0.988, 0.985, 0.981, 0.978, 0.974, 0.970, 0.965,
            0.961, 0.956, 0.951, 0.945, 0.939, 0.932, 0.925, 0.918, 0.910, 0.901,
            0.892, 0.882, 0.871, 0.860, 0.848, 0.836, 0.823, 0.810, 0.798, 0.786,
            0.775, 0.764, 0.754, 0.746, 0.738, 0.732, 0.727, 0.724, 0.722, 0.722,
            0.724, 0.728, 0.734, 0.742, 0.752, 0.764, 0.779, 0.795, 0.812, 0.830,
            0.848, 0.866, 0.883, 0.899, 0.914, 0.928, 0.940, 0.951, 0.961, 0.969,
            0.976, 0.982, 0.986, 0.990, 0.993, 0.995, 0.997, 0.999, 0.998, 1.000,
            0.999]
HBETA_err = 0.004
HBETA_mwl = [4840.5, 4842.0, 4844.0, 4846.3, 4848.0, 4849.6, 4851.0, 4852.5, 4854.0, 4855.5,
             4857.0, 4858.5, 4860.0, 4861.5, 4863.0, 4864.5, 4866.0, 4867.5, 4869.0, 4870.5,
             4872.0, 4874.0, 4876.7]
HBETA_red = [0.995, 0.990, 0.985, 0.978, 0.966, 0.950, 0.928, 0.900, 0.870, 0.840,
             0.800, 0.770, 0.750, 0.743, 0.755, 0.790, 0.845, 0.900, 0.940, 0.970,
             0.985, 0.995, 0.999]
HBETA_band = [0.001, 0.001, 0.002, 0.002, 0.003, 0.003, 0.004, 0.004, 0.005, 0.005,
              0.005, 0.005, 0.005, 0.005, 0.005, 0.005, 0.005, 0.004, 0.004, 0.003,
              0.002, 0.001, 0.001]

HEI4922_wl = [4910.0, 4910.5, 4910.9, 4911.4, 4911.8, 4912.3, 4912.7, 4913.2, 4913.6, 4914.1,
              4914.5, 4915.0, 4915.4, 4915.9, 4916.3, 4916.8, 4917.2, 4917.7, 4918.1, 4918.6,
              4919.0, 4919.5, 4919.9, 4920.4, 4920.8, 4921.3, 4921.7, 4922.2, 4922.6, 4923.1,
              4923.5, 4924.0, 4924.4, 4924.9, 4925.3, 4925.8, 4926.2, 4926.7, 4927.1, 4927.6,
              4928.0, 4928.5, 4928.9, 4929.4, 4929.8, 4930.3, 4930.7, 4931.2, 4931.6, 4932.1,
              4932.5, 4933.0, 4933.4]
HEI4922_fx = [0.006, -0.001, 0.004, 0.009, 0.001, -0.003, 0.005, 0.000, -0.004, 0.002,
              -0.006, -0.010, -0.014, -0.019, -0.023, -0.027, -0.031, -0.035, -0.038, -0.042,
              -0.040, -0.045, -0.048, -0.044, -0.050, -0.047, -0.052, -0.049, -0.053, -0.048,
              -0.051, -0.046, -0.049, -0.044, -0.041, -0.043, -0.037, -0.033, -0.035, -0.028,
              -0.024, -0.026, -0.018, -0.014, -0.009, -0.005, -0.001, 0.003, -0.002, 0.004,
              0.000, 0.005, 0.001]
HEI4922_err = 0.005
HEI4922_mwl = [4909.5, 4914.5, 4915.5, 4917.0, 4918.5, 4920.0, 4921.5, 4923.0, 4924.5, 4926.0,
               4927.5, 4929.0, 4930.5, 4934.4]
HEI4922_red = [0.0, 0.0, -0.006, -0.018, -0.029, -0.037, -0.041, -0.042, -0.039, -0.033,
               -0.023, -0.011, 0.0, 0.0]
HEI4922_band = [0.001, 0.001, 0.002, 0.003, 0.004, 0.005, 0.005, 0.005, 0.005, 0.004,
                0.003, 0.002, 0.001, 0.001]

HEI5016_wl = [5004.0, 5004.45, 5004.9, 5005.35, 5005.8, 5006.25, 5006.7, 5007.15, 5007.6, 5008.05,
              5008.5, 5008.95, 5009.4, 5009.85, 5010.3, 5010.75, 5011.2, 5011.65, 5012.1, 5012.55,
              5013.0, 5013.45, 5013.9, 5014.35, 5014.8, 5015.25, 5015.7, 5016.15, 5016.6, 5017.05,
              5017.5, 5017.95, 5018.4, 5018.85, 5019.3, 5019.75, 5020.2, 5020.65, 5021.1, 5021.55,
              5022.0, 5022.45, 5022.9, 5023.35, 5023.8, 5024.25, 5024.7, 5025.15, 5025.6]
HEI5016_fx = [0.008, 0.002, 0.012, -0.003, 0.006, 0.001, 0.009, -0.004, 0.004, -0.001,
              0.007, -0.006, 0.002, -0.009, -0.014, -0.018, -0.022, -0.027, -0.024, -0.032,
              -0.036, -0.029, -0.040, -0.034, -0.043, -0.031, -0.038, -0.045, -0.033, -0.040,
              -0.029, -0.036, -0.026, -0.032, -0.021, -0.027, -0.016, -0.021, -0.010, -0.014,
              -0.004, -0.008, 0.002, -0.003, 0.005, -0.001, 0.006, 0.001, 0.004]
HEI5016_err = 0.005
HEI5016_mwl = [5003.6, 5009.5, 5010.5, 5012.0, 5013.5, 5015.0, 5016.5, 5018.0, 5019.5, 5021.0, 5022.5, 5026.0]
HEI5016_red = [0.0, 0.0, -0.006, -0.016, -0.023, -0.026, -0.026, -0.023, -0.016, -0.007, 0.0, 0.0]
HEI5016_band = [0.001, 0.001, 0.002, 0.003, 0.003, 0.004, 0.004, 0.003, 0.003, 0.002, 0.001, 0.001]

HEII5411_wl = [5393.5, 5394.0, 5394.5, 5395.0, 5395.5, 5396.0, 5396.5, 5397.0, 5397.5, 5398.0,
               5398.5, 5399.0, 5399.5, 5400.0, 5400.5, 5401.0, 5401.5, 5402.0, 5402.5, 5403.0,
               5403.5, 5404.0, 5404.5, 5405.0, 5405.5, 5406.0, 5406.5, 5407.0, 5407.5, 5408.0,
               5408.5, 5409.0, 5409.5, 5410.0, 5410.5, 5411.0, 5411.5, 5412.0, 5412.5, 5413.0,
               5413.5, 5414.0, 5414.5, 5415.0, 5415.5, 5416.0, 5416.5, 5417.0, 5417.5, 5418.0,
               5418.5, 5419.0, 5419.5, 5420.0, 5420.5, 5421.0, 5421.5, 5422.0, 5422.5, 5423.0,
               5423.5, 5424.0, 5424.5, 5425.0, 5425.5, 5426.0, 5426.5, 5427.0, 5427.5]
HEII5411_fx = [0.004, -0.002, 0.008, 0.001, -0.004, 0.006, 0.000, 0.009, -0.003, 0.005,
               0.002, -0.005, 0.007, -0.001, 0.003, -0.006, -0.002, -0.009, -0.006, -0.013,
               -0.017, -0.014, -0.022, -0.026, -0.023, -0.031, -0.035, -0.032, -0.040, -0.043,
               -0.039, -0.047, -0.051, -0.046, -0.054, -0.050, -0.057, -0.052, -0.048, -0.053,
               -0.045, -0.040, -0.044, -0.036, -0.030, -0.034, -0.025, -0.020, -0.024, -0.015,
               -0.011, -0.016, -0.007, -0.004, -0.009, 0.001, -0.003, 0.004, -0.001, 0.006,
               0.002, 0.008, 0.003, 0.007, 0.001, 0.005, 0.009, 0.003, 0.006]
HEII5411_err = 0.004
HEII5411_mwl = [5392.9, 5398.0, 5400.0, 5401.5, 5403.5, 5405.6, 5408.1, 5410.0, 5411.9, 5413.5,
                5415.2, 5416.5, 5418.1, 5420.0, 5422.0, 5424.0, 5428.25]
HEII5411_red = [0.0, -0.001, -0.003, -0.006, -0.014, -0.0275, -0.0445, -0.053, -0.0563, -0.055,
                -0.0495, -0.042, -0.031, -0.018, -0.008, -0.002, 0.0]
HEII5411_band = [0.001, 0.001, 0.002, 0.002, 0.003, 0.004, 0.005, 0.006, 0.006, 0.006,
                 0.006, 0.005, 0.005, 0.004, 0.003, 0.002, 0.001]

OIII5592_wl = [5580.0, 5580.6, 5581.2, 5581.8, 5582.4, 5583.0, 5583.6, 5584.2, 5584.8, 5585.4,
               5586.0, 5586.6, 5587.2, 5587.8, 5588.4, 5589.0, 5589.6, 5590.2, 5590.8, 5591.4,
               5592.0, 5592.6, 5593.2, 5593.8, 5594.4, 5595.0, 5595.6, 5596.2, 5596.8, 5597.4,
               5598.0, 5598.6, 5599.2, 5599.8, 5600.4, 5601.0, 5601.6, 5602.2, 5602.8, 5603.4,
               5604.0]
OIII5592_fx = [1.004, 0.992, 1.012, 0.998, 1.018, 0.989, 1.006, 0.995, 1.010, 0.986,
               1.002, 0.994, 1.008, 0.983, 0.999, 1.005, 0.990, 1.013, 0.996, 0.987,
               1.003, 0.993, 1.009, 0.981, 1.001, 0.997, 1.015, 0.988, 1.004, 0.992,
               1.020, 0.985, 1.007, 0.995, 1.011, 0.990, 1.002, 1.016, 0.994, 1.006,
               0.998]
OIII5592_err = 0.004
OIII5592_mwl = [5579.0, 5583.0, 5586.0, 5589.0, 5592.0, 5595.0, 5598.0, 5601.0, 5605.0]
OIII5592_red = [1.0, 0.999, 0.997, 0.995, 0.994, 0.995, 0.997, 0.999, 1.0]
OIII5592_lo = [1.0, 0.997, 0.993, 0.990, 0.989, 0.990, 0.993, 0.997, 1.0]
OIII5592_hi = [1.0, 1.0, 0.999, 0.998, 0.998, 0.998, 0.999, 1.0, 1.0]

CIV5801_wl = [5784.5, 5785.0, 5785.5, 5786.0, 5786.5, 5787.0, 5787.5, 5788.0, 5788.5, 5789.0,
              5789.5, 5790.0, 5790.5, 5791.0, 5791.5, 5792.0, 5792.5, 5793.0, 5793.5, 5794.0,
              5794.5, 5795.0, 5795.5, 5796.0, 5796.5, 5797.0, 5797.5, 5798.0, 5798.5, 5799.0,
              5799.5, 5800.0, 5800.5, 5801.0, 5801.5, 5802.0, 5802.5, 5803.0, 5803.5, 5804.0,
              5804.5, 5805.0, 5805.5, 5806.0, 5806.5, 5807.0, 5807.5, 5808.0, 5808.5, 5809.0,
              5809.5, 5810.0, 5810.5, 5811.0, 5811.5, 5812.0, 5812.5, 5813.0, 5813.5, 5814.0,
              5814.5, 5815.0, 5815.5, 5816.0, 5816.5, 5817.0, 5817.5, 5818.0, 5818.5, 5819.0,
              5819.5, 5820.0, 5820.5, 5821.0, 5821.5, 5822.0]
CIV5801_fx = [1.003, 0.985, 1.012, 0.992, 0.978, 1.006, 0.996, 1.015, 0.988, 1.001,
              0.982, 0.994, 1.008, 0.990, 0.975, 1.010, 1.075, 0.998, 0.986, 1.004,
              0.993, 1.018, 0.980, 0.999, 1.007, 0.989, 0.971, 1.002, 0.995, 1.013,
              0.984, 0.997, 1.009, 0.987, 0.968, 1.000, 0.992, 1.011, 0.983, 1.005,
              0.996, 0.977, 1.014, 0.990, 1.002, 0.985, 0.998, 1.008, 0.974, 0.994,
              1.016, 0.988, 1.003, 0.981, 0.997, 1.010, 0.991, 0.979, 1.006, 0.995,
              1.012, 0.986, 1.000, 0.993, 0.976, 1.009, 0.989, 1.004, 0.982, 0.998,
              1.013, 0.992, 1.001, 0.987, 1.007, 0.995]
CIV5801_err = 0.007
CIV5801_mwl = [5783.7, 5822.4]
CIV5801_red = [0.997, 0.997]
CIV5801_band = [0.0015, 0.0015]

HALPHA_wl = [6527, 6528, 6529, 6530, 6531, 6532, 6533, 6534, 6535, 6536,
             6537, 6538, 6539, 6540, 6541, 6542, 6543, 6544, 6545, 6546,
             6547, 6548, 6549, 6550, 6551, 6552, 6553, 6554, 6555, 6556,
             6557, 6558, 6559, 6560, 6561, 6562, 6563, 6564, 6565, 6566,
             6567, 6568, 6569, 6570, 6571, 6572, 6573, 6574, 6575, 6576,
             6577, 6578, 6579, 6580, 6581, 6582, 6583, 6584, 6585, 6586,
             6587, 6588, 6589, 6590, 6591, 6592, 6593, 6594, 6595]
HALPHA_fx = [0.995, 1.004, 0.990, 1.008, 0.998, 0.987, 1.006, 0.993, 1.012, 0.996,
             0.984, 1.003, 0.991, 1.009, 0.985, 0.997, 0.979, 0.988, 0.975, 0.982,
             0.970, 0.962, 0.955, 0.946, 0.938, 0.927, 0.915, 0.902, 0.872, 0.858,
             0.845, 0.866, 0.835, 0.852, 0.824, 0.840, 0.818, 0.835, 0.808, 0.845,
             0.862, 0.878, 0.870, 0.893, 0.905, 0.898, 0.918, 0.932, 0.925, 0.945,
             0.958, 0.972, 0.990, 1.012, 1.025, 1.018, 1.030, 1.010, 1.022, 1.005,
             0.995, 1.008, 0.998, 1.004, 0.992, 1.001, 0.996, 1.006, 0.999]
HALPHA_err = 0.006
HALPHA_mwl = [6524.5, 6535.0, 6540.0, 6545.0, 6548.0, 6551.0, 6553.0, 6555.0, 6557.0, 6559.0,
              6561.0, 6563.0, 6565.0, 6567.0, 6569.0, 6571.0, 6573.0, 6575.0, 6578.0, 6582.0,
              6587.0, 6598.9]
HALPHA_red = [1.0, 0.997, 0.993, 0.987, 0.978, 0.958, 0.938, 0.915, 0.893, 0.875,
              0.862, 0.857, 0.860, 0.872, 0.890, 0.913, 0.940, 0.962, 0.982, 0.993,
              0.998, 1.0]
HALPHA_band = [0.001, 0.002, 0.003, 0.004, 0.005, 0.007, 0.008, 0.009, 0.010, 0.010,
               0.010, 0.010, 0.010, 0.010, 0.010, 0.009, 0.008, 0.007, 0.005, 0.003,
               0.002, 0.001]

HEI6678_wl = [6654.0, 6654.75, 6655.5, 6656.25, 6657.0, 6657.75, 6658.5, 6659.25, 6660.0, 6660.75,
              6661.5, 6662.25, 6663.0, 6663.75, 6664.5, 6665.25, 6666.0, 6666.75, 6667.5, 6668.25,
              6669.0, 6669.75, 6670.5, 6671.25, 6672.0, 6672.75, 6673.5, 6674.25, 6675.0, 6675.75,
              6676.5, 6677.25, 6678.0, 6678.75, 6679.5, 6680.25, 6681.0, 6681.75, 6682.5, 6683.25,
              6684.0, 6684.75, 6685.5, 6686.25, 6687.0, 6687.75, 6688.5, 6689.25, 6690.0, 6690.75,
              6691.5, 6692.25, 6693.0, 6693.75, 6694.5, 6695.25, 6696.0, 6696.75, 6697.5, 6698.25,
              6699.0, 6699.75, 6700.5, 6701.25, 6702.0]
HEI6678_fx = [1.012, 0.998, 1.005, 0.994, 1.018, 1.001, 0.996, 1.009, 0.992, 1.003,
              1.014, 0.995, 0.988, 1.002, 0.985, 0.993, 0.980, 0.986, 0.975, 0.982,
              0.970, 0.978, 0.966, 0.972, 0.958, 1.025, 0.962, 0.950, 0.968, 0.945,
              0.955, 0.925, 0.948, 0.938, 0.960, 0.942, 0.935, 0.952, 0.940, 0.958,
              0.945, 0.892, 0.950, 0.962, 0.955, 0.968, 0.960, 0.975, 0.970, 0.982,
              0.978, 0.990, 0.986, 0.996, 0.993, 1.004, 0.998, 1.007, 0.995, 1.002,
              0.997, 1.006, 0.999, 1.004, 0.996]
HEI6678_err = 0.004
HEI6678_mwl = [6653.2, 6669.5, 6671.0, 6672.5, 6674.5, 6677.0, 6680.5, 6683.5, 6686.5, 6689.5,
               6692.5, 6694.5, 6702.8]
HEI6678_red = [1.0, 1.0, 0.985, 0.970, 0.958, 0.947, 0.940, 0.942, 0.950, 0.965,
               0.980, 0.996, 1.0]
HEI6678_band = [0.001, 0.001, 0.002, 0.003, 0.004, 0.005, 0.005, 0.005, 0.005, 0.004,
                0.003, 0.002, 0.001]

# fitting-window limits (dashed lines)
DASHES = {
    "NIV4058": [4052.8, 4062.6], "CIII4069": [4063.5, 4080.5], "HDELTA": [4083.9, 4112.0],
    "HEI4121": [4112.6, 4126.35], "HEI4143": [4133.4, 4151.3], "CIII4187": [4177.8, 4189.8],
    "HEII4200": [4183.7, 4209.1], "HGAMMA": [4325.0, 4355.0], "NIII4379": [4375.5, 4380.6],
    "HEI4387": [4379.8, 4396.3], "HEI4471": [4460.2, 4480.0], "NIIIqua": [4508.8, 4521.0],
    "HEII4541": [4530.5, 4550.8], "NIIItrip": [4629.3, 4643.6], "CIII4650": [4641.0, 4659.0],
    "HEII4686": [4673.0, 4694.4], "HEI4713": [4705.0, 4720.5], "HBETA": [4844.0, 4873.5],
    "HEI4922": [4911.0, 4932.0], "HEI5016": [5005.5, 5024.0], "HEII5411": [5396.5, 5424.8],
    "OIII5592": [5582.0, 5602.5], "CIV5801": [5792.0, 5822.0], "HALPHA": [6531.8, 6591.0],
    "HEI6678": [6658.2, 6699.0],
}

LINES = ["NIV4058", "CIII4069", "HDELTA", "HEI4121",
         "HEI4143", "CIII4187", "HEII4200", "HGAMMA",
         "NIII4379", "HEI4387", "HEI4471", "NIIIqua",
         "HEII4541", "NIIItrip", "CIII4650", "HEII4686",
         "HEI4713", "HBETA", "HEI4922", "HEI5016",
         "HEII5411", "OIII5592", "CIV5801", "HALPHA",
         "HEI6678"]

# axis setup: flux (left, right, step, decimals, "+1" offset), wavelength (lo, hi, step, offset)
FLUX_AX = {
    "NIV4058": (0.020, -0.020, 0.005, 3, True), "CIII4069": (0.015, -0.025, 0.005, 3, True),
    "HDELTA": (1.05, 0.70, 0.05, 2, False), "HEI4121": (0.02, -0.05, 0.01, 2, True),
    "HEI4143": (0.03, -0.05, 0.01, 2, True), "CIII4187": (0.02, -0.02, 0.01, 2, True),
    "HEII4200": (0.03, -0.06, 0.01, 2, True), "HGAMMA": (1.05, 0.70, 0.05, 2, False),
    "NIII4379": (0.020, -0.020, 0.005, 3, True), "HEI4387": (0.02, -0.07, 0.01, 2, True),
    "HEI4471": (1.02, 0.88, 0.02, 2, False), "NIIIqua": (0.015, -0.025, 0.005, 3, True),
    "HEII4541": (1.04, 0.92, 0.02, 2, False), "NIIItrip": (0.020, -0.020, 0.005, 3, True),
    "CIII4650": (0.015, -0.025, 0.005, 3, True), "HEII4686": (1.02, 0.90, 0.02, 2, False),
    "HEI4713": (0.02, -0.04, 0.01, 2, True), "HBETA": (1.05, 0.70, 0.05, 2, False),
    "HEI4922": (0.02, -0.07, 0.01, 2, True), "HEI5016": (0.03, -0.05, 0.01, 2, True),
    "HEII5411": (0.02, -0.07, 0.01, 2, True), "OIII5592": (1.06, 0.94, 0.02, 2, False),
    "CIV5801": (1.10, 0.94, 0.02, 2, False), "HALPHA": (1.10, 0.75, 0.05, 2, False),
    "HEI6678": (1.04, 0.90, 0.02, 2, False),
}
WL_AX = {
    "NIV4058": (4051.45, 4063.6, 2, 4000, "+4e3"), "CIII4069": (4061.0, 4081.7, 5, 4000, "+4e3"),
    "HDELTA": (4080.3, 4115.6, 5, 0, None), "HEI4121": (4110.8, 4128.2, 5, 4100, "+4.1e3"),
    "HEI4143": (4131.2, 4152.5, 5, 4100, "+4.1e3"), "CIII4187": (4176.0, 4191.1, 2, 4100, "+4.1e3"),
    "HEII4200": (4180.8, 4212.2, 5, 0, None), "HGAMMA": (4321.1, 4359.0, 5, 4300, "+4.3e3"),
    "NIII4379": (4375.0, 4381.25, 1, 4300, "+4.3e3"), "HEI4387": (4377.55, 4398.5, 5, 4300, "+4.3e3"),
    "HEI4471": (4457.5, 4482.4, 5, 4400, "+4.4e3"), "NIIIqua": (4507.5, 4522.65, 2, 4500, "+4.5e3"),
    "HEII4541": (4528.2, 4551.1, 5, 4500, "+4.5e3"), "NIIItrip": (4627.4, 4645.4, 5, 4600, "+4.6e3"),
    "CIII4650": (4639.4, 4660.0, 5, 4600, "+4.6e3"), "HEII4686": (4670.9, 4696.1, 5, 4600, "+4.6e3"),
    "HEI4713": (4703.6, 4721.45, 5, 4700, "+4.7e3"), "HBETA": (4840.5, 4876.7, 5, 4800, "+4.8e3"),
    "HEI4922": (4909.5, 4934.4, 5, 4900, "+4.9e3"), "HEI5016": (5003.6, 5026.0, 5, 5000, "+5e3"),
    "HEII5411": (5392.9, 5428.25, 5, 0, None), "OIII5592": (5579.0, 5605.0, 5, 0, None),
    "CIV5801": (5783.7, 5822.4, 10, 0, None), "HALPHA": (6524.5, 6598.9, 10, 6500, "+6.5e3"),
    "HEI6678": (6653.2, 6702.8, 10, 0, None),
}

G = globals()


def envelope(name):
    red = np.array(G[name + "_red"])
    if name + "_band" in G:
        band = np.array(G[name + "_band"])
        return red - band, red + band
    return np.array(G[name + "_lo"]), np.array(G[name + "_hi"])


# ---------------------------------------------------------------- layout (pixels, figure is rotated)
W, H = 946, 1393
ROW_X = [29, 161, 292, 424, 555, 686, 818]
COL_TOP = [1029, 687, 345, 3]
AX_W, AX_H = 89, 283

fig = plt.figure(figsize=(W / 100, H / 100), dpi=100)
plt.rcParams["font.family"] = "DejaVu Sans"


def flux_formatter(dec):
    def f(v, pos):
        if abs(v) < 1e-9:
            v = 0.0
        return f"{v:.{dec}f}".replace("-", "\u2212")
    return FuncFormatter(f)


for i, name in enumerate(LINES):
    row, col = i // 4, i % 4
    x0 = ROW_X[row]
    top = COL_TOP[col]
    ax = fig.add_axes([x0 / W, 1 - (top + AX_H) / H, AX_W / W, AX_H / H])

    fl, fr, fstep, dec, plus1 = FLUX_AX[name]
    wlo, whi, wstep, woff, wlab = WL_AX[name]
    base = 0.0 if plus1 else 1.0

    wl = G[name + "_wl"]
    fx = G[name + "_fx"]
    err = G[name + "_err"]
    mwl = G[name + "_mwl"]
    red = G[name + "_red"]
    lo, hi = envelope(name)

    ax.axvline(base, color="k", lw=0.8, zorder=1)
    ax.errorbar(fx, wl, xerr=err, fmt="o", color="k", ms=2.6, elinewidth=0.8,
                capsize=1.8, capthick=0.8, zorder=2)
    ax.fill_betweenx(mwl, lo, hi, color="green", lw=0, alpha=0.95, zorder=3)
    ax.plot(lo, mwl, color="#2e8b2e", lw=0.8, zorder=3)
    ax.plot(hi, mwl, color="#2e8b2e", lw=0.8, zorder=3)
    ax.plot(red, mwl, color="red", lw=1.6, zorder=4)
    for d in DASHES[name]:
        ax.axhline(d, color="#3fa33f", ls=(0, (5, 3)), lw=1.0, zorder=5)

    ax.set_xlim(fl, fr)
    ax.set_ylim(wlo, whi)
    ax.xaxis.set_major_locator(MultipleLocator(fstep))
    ax.xaxis.set_major_formatter(flux_formatter(dec))
    ax.yaxis.set_major_locator(MultipleLocator(wstep))
    ax.yaxis.set_major_formatter(FuncFormatter(lambda v, p, o=woff: f"{v - o:.0f}"))
    ax.tick_params(direction="in", length=4, width=0.8, labelsize=9,
                   top=True, bottom=True, left=True, right=True,
                   labelleft=False, labelright=True)
    ax.tick_params(axis="x", labelrotation=90, pad=3)
    ax.tick_params(axis="y", labelrotation=90, pad=3)
    for s in ax.spines.values():
        s.set_linewidth(1.0)
        s.set_color("#222222")

    yc = 1 - (top + AX_H / 2) / H
    fig.text((x0 - 4) / W, yc, name, rotation=90, ha="right", va="center", fontsize=11.5)
    if plus1:
        fig.text((x0 - 3) / W, 1 - (top + AX_H - 3) / H, "+1", rotation=90,
                 ha="right", va="bottom", fontsize=9)
    if wlab:
        fig.text((x0 + AX_W + 24) / W, 1 - (top + 2) / H, wlab, rotation=90,
                 ha="left", va="top", fontsize=9)
    if col == 0:
        fig.text((x0 + AX_W / 2) / W, 1 - 1378 / H, "Normalized flux", rotation=180,
                 ha="center", va="center", fontsize=8.5)
    if name in ("OIII5592", "CIV5801", "HALPHA", "HEI6678"):
        fig.text((x0 + AX_W + 24) / W, yc, "Wavelength", rotation=90,
                 ha="left", va="center", fontsize=9)

fig.savefig("out.png", dpi=100, facecolor="white")
